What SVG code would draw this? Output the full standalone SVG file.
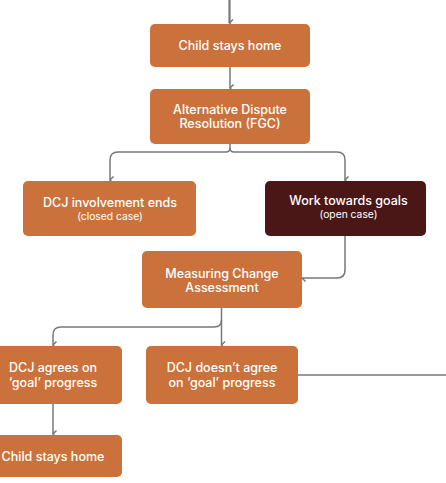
<svg xmlns="http://www.w3.org/2000/svg" width="446" height="483" viewBox="0 0 446 483">
<style>
.box{fill:#CB723C}
.dark{fill:#4B1716}
.t{font-family:Inter,"Liberation Sans",sans-serif;font-weight:500;font-size:12.5px;fill:#fff;text-anchor:middle}
.s{font-family:Inter,"Liberation Sans",sans-serif;font-weight:400;font-size:10.3px;fill:#fff;text-anchor:middle}
.c{fill:none;stroke:#787878;stroke-width:1.5}
</style>
<defs>
<marker id="a" viewBox="0 0 10 10" refX="5" refY="8" markerWidth="10" markerHeight="10" markerUnits="userSpaceOnUse" orient="auto-start-reverse">
<path d="M1.5,4.5 L5,8 L8.5,4.5" fill="none" stroke="#787878" stroke-width="1.5"/>
</marker>
</defs>
<g id="connectors">
<path class="c" d="M229.5,0 V23" style="stroke-width:2.2" marker-end="url(#a)"/>
<path class="c" d="M230,67 V88" marker-end="url(#a)"/>
<path class="c" d="M230,144 V148 Q230,152 226,152 H118 Q110,152 110,160 V180" marker-end="url(#a)"/>
<path class="c" d="M230,148 Q230,152 234,152 H337 Q345,152 345,160 V180" marker-end="url(#a)"/>
<path class="c" d="M345,236 V270 Q345,278 337,278 H302" marker-end="url(#a)"/>
<path class="c" d="M221.5,308 V345" marker-end="url(#a)"/>
<path class="c" d="M221.5,320 Q221.5,327 214,327 H61 Q53,327 53,335 V345" marker-end="url(#a)"/>
<path class="c" d="M53,404 V434" marker-end="url(#a)"/>
<path class="c" d="M298,375 H446"/>
</g>
<g id="n1">
<rect class="box" x="150" y="24" width="160" height="43" rx="5"/>
<text class="t" x="230" y="49.5">Child stays home</text>
</g>
<g id="n2">
<rect class="box" x="150" y="89" width="160" height="55" rx="5"/>
<text class="t" x="230" y="113.5">Alternative Dispute</text>
<text class="t" x="230" y="128">Resolution (FGC)</text>
</g>
<g id="n3">
<rect class="box" x="23" y="181" width="173" height="55" rx="5"/>
<text class="t" x="110" y="207">DCJ involvement ends</text>
<text class="s" x="110" y="219.5">(closed case)</text>
</g>
<g id="n4">
<rect class="dark" x="265" y="181" width="161" height="55" rx="5"/>
<text class="t" x="348.5" y="205">Work towards goals</text>
<text class="s" x="348.5" y="218">(open case)</text>
</g>
<g id="n5">
<rect class="box" x="142" y="251" width="160" height="57" rx="5"/>
<text class="t" x="222" y="277.5">Measuring Change</text>
<text class="t" x="222" y="291.5">Assessment</text>
</g>
<g id="n6">
<rect class="box" x="-16" y="346" width="138" height="58" rx="5"/>
<text class="t" x="53" y="372">DCJ agrees on</text>
<text class="t" x="53" y="386.5">‘goal’ progress</text>
</g>
<g id="n7">
<rect class="box" x="146" y="346" width="152" height="58" rx="5"/>
<text class="t" x="222" y="372">DCJ doesn’t agree</text>
<text class="t" x="222" y="386.5">on ‘goal’ progress</text>
</g>
<g id="n8">
<rect class="box" x="-16" y="435" width="138" height="42" rx="5"/>
<text class="t" x="53" y="460.5">Child stays home</text>
</g>
</svg>
